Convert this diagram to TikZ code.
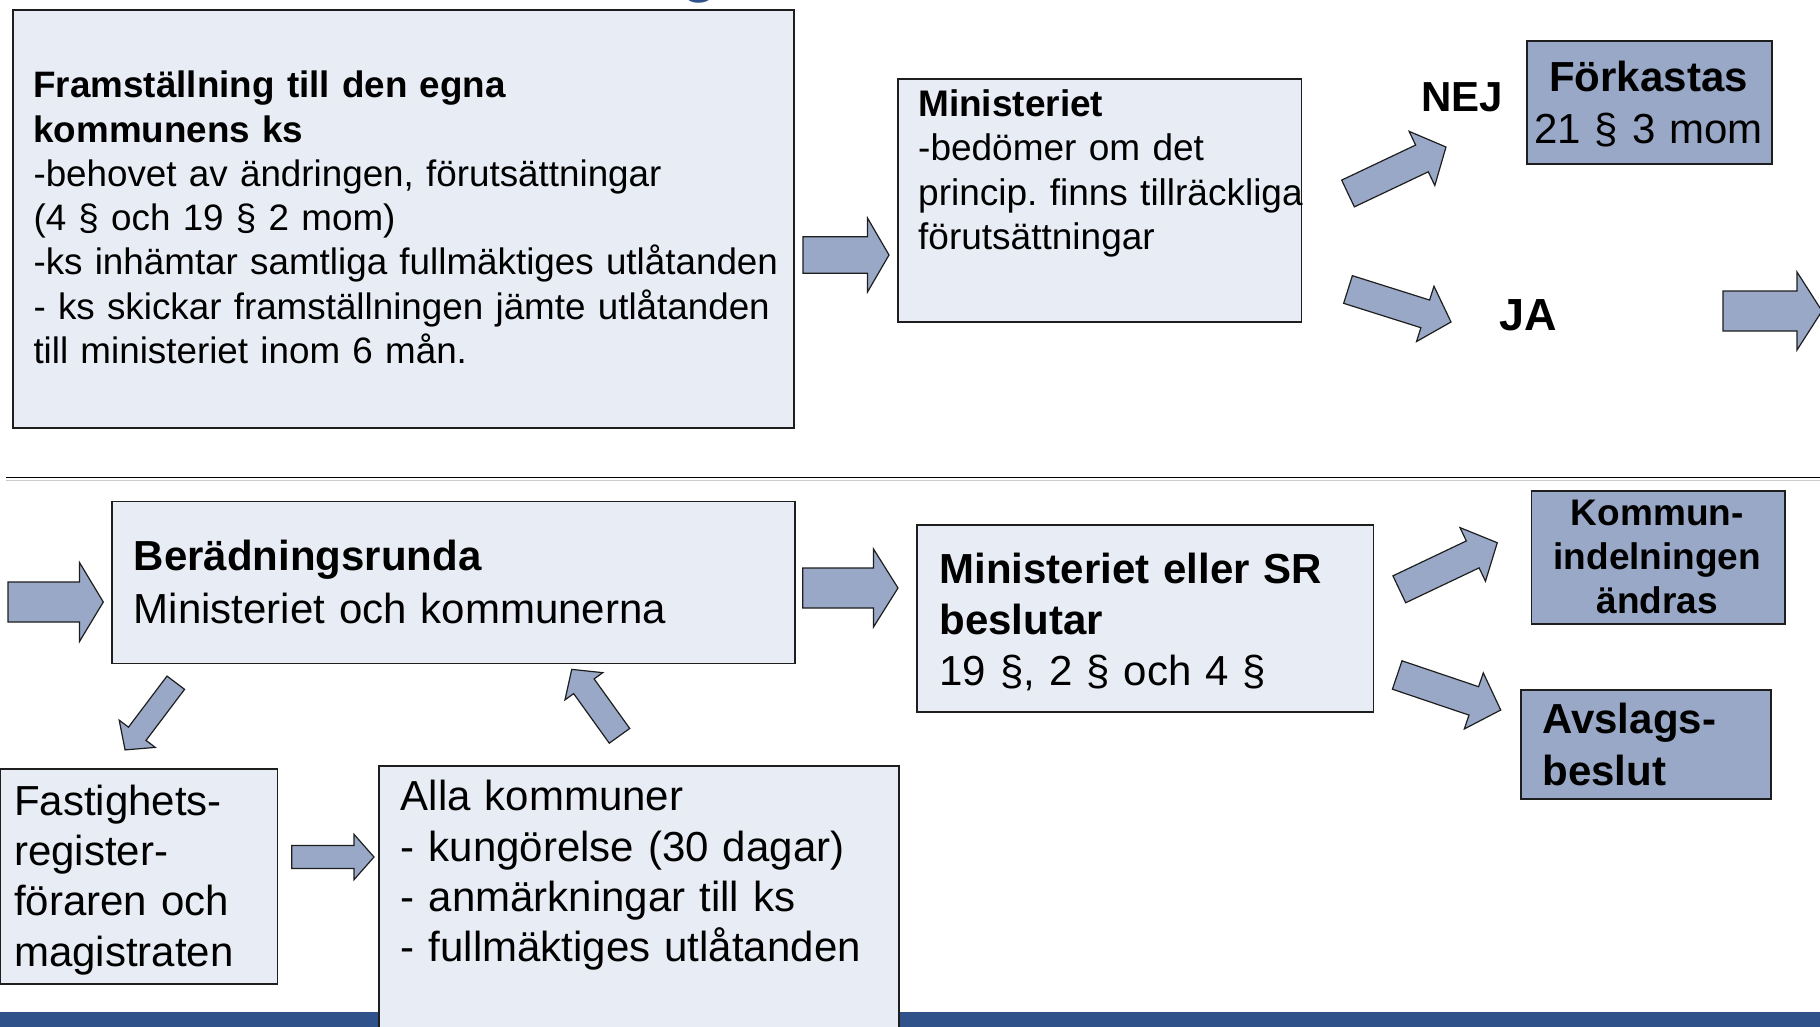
\documentclass[tikz,border=0pt]{standalone}
\usepackage{fontspec}
\setmainfont{Liberation Sans}
\frenchspacing
\definecolor{lightbox}{HTML}{E8ECF4}
\definecolor{darkbox}{HTML}{98A8C6}
\definecolor{barblue}{HTML}{30528A}
\definecolor{edge}{HTML}{1E1E1E}
% block arrow: tail x, tail y, tip x, tip y, body half width, head half width, head length
\newcommand\barrow[7]{%
  \pgfmathsetmacro\baang{atan2(-((#4)-(#2)),(#3)-(#1))}%
  \pgfmathsetmacro\balen{veclen((#3)-(#1),(#4)-(#2))}%
  \pgfmathsetmacro\babase{\balen-(#7)}%
  \begin{scope}[shift={(#1,#2)},rotate=\baang]
    \draw[blockarrow] (0,-#5) -- (\babase,-#5) -- (\babase,-#6) -- (\balen,0)
      -- (\babase,#6) -- (\babase,#5) -- (0,#5) -- cycle;
  \end{scope}}
\begin{document}
\begin{tikzpicture}[x=1pt,y=-1pt,
  lbox/.style={draw=edge, line width=1.6pt, fill=lightbox, inner sep=0pt, anchor=north west},
  dbox/.style={lbox, fill=darkbox},
  txt/.style={inner sep=0pt, anchor=base west, align=left, text width=#1},
  ctxt/.style={inner sep=0pt, anchor=base, align=center, text width=#1},
  blockarrow/.style={draw=edge, line width=1.2pt, fill=darkbox, line join=miter},
  sepline/.style={draw=black, line width=1.8pt},
  sepshadow/.style={draw=black!20, line width=1.2pt}]
\useasboundingbox (0,0) rectangle (1820,1026);

% cut-off title fragment
\node[anchor=base, inner sep=0pt, text=barblue, font=\fontsize{60}{60}\selectfont\bfseries] (gfrag) at (700,-9.3) {g};

% ---------- upper part ----------
\node[lbox, minimum width=781.3, minimum height=418.3] (A) at (12,9) {};
\node[txt=800, font=\fontsize{36.8}{44.3}\selectfont] (At) at (33.3,97.7)
  {\textbf{Framställning till den egna}\\
   \textbf{kommunens ks}\\
   -behovet av ändringen, förutsättningar\\
   (4 § och 19 § 2 mom)\\
   -ks inhämtar samtliga fullmäktiges utlåtanden\\
   - ks skickar framställningen jämte utlåtanden\\
   till ministeriet inom 6 mån.};

\node[lbox, minimum width=403.5, minimum height=243] (B) at (897,78) {};
\node[txt=500, font=\fontsize{37}{44.6}\selectfont] (Bt) at (918,116)
  {\textbf{Ministeriet}\\
   -bedömer om det\\
   princip. finns tillräckliga\\
   förutsättningar};

\node[anchor=base, inner sep=0pt, font=\fontsize{42}{50}\selectfont\bfseries] (nej) at (1462,111.7) {NEJ};
\node[dbox, minimum width=245, minimum height=123] (F) at (1526,40) {};
\node[ctxt=245, font=\fontsize{42}{51.6}\selectfont] (Ft) at (1648.5,91.7)
  {\textbf{Förkastas}\\21 § 3 mom};

\node[anchor=base, inner sep=0pt, font=\fontsize{45}{50}\selectfont\bfseries] (ja) at (1528,330) {JA};

\barrow{803}{255}{889}{255}{18.3}{37}{21.5}
\barrow{1348}{193.5}{1446}{147}{14.8}{30}{26.6}
\barrow{1348}{289.5}{1451}{322}{14.5}{29}{27}
\barrow{1723}{311}{1822}{311}{20}{39}{25}

% separator
\coordinate (sepL) at (6,477.5);
\coordinate (sepR) at (1820,477.5);
\coordinate (shL) at (6,480.3);
\coordinate (shR) at (1820,480.3);
\draw[sepshadow] (shL) -- (shR);
\draw[sepline] (sepL) -- (sepR);

% ---------- lower part ----------
\fill[barblue] (-2,1012) rectangle (1822,1028);

\node[lbox, minimum width=682.6, minimum height=162] (C) at (111.4,500.7) {};
\node[txt=700, font=\fontsize{42}{52.3}\selectfont] (Ct) at (133.5,570.7)
  {\textbf{Berädningsrunda}\\
   Ministeriet och kommunerna};

\node[lbox, minimum width=456.7, minimum height=186.7] (D) at (916,524.3) {};
\node[txt=460, font=\fontsize{42}{50.9}\selectfont] (Dt) at (939.3,583.3)
  {\textbf{Ministeriet eller SR}\\
   \textbf{beslutar}\\
   19 §, 2 § och 4 §};

\node[dbox, minimum width=253.3, minimum height=133.3] (K) at (1530.7,490) {};
\node[ctxt=253.3, font=\fontsize{37}{44.2}\selectfont\bfseries] (Kt) at (1657.3,525)
  {Kommun-\\indelningen\\ändras};

\node[dbox, minimum width=250, minimum height=109.3] (Av) at (1520,689) {};
\node[txt=240, font=\fontsize{42}{51.7}\selectfont\bfseries] (Avt) at (1542.3,733.3)
  {Avslags-\\beslut};

\node[lbox, minimum width=277.7, minimum height=215] (Fa) at (-1,768.3) {};
\node[txt=270, font=\fontsize{42}{50.4}\selectfont] (Fat) at (14,815)
  {Fastighets-\\register-\\föraren och\\magistraten};

\node[lbox, minimum width=520.1, minimum height=275] (Al) at (378.3,765) {};
\node[txt=520, font=\fontsize{42}{50.3}\selectfont] (Alt) at (400.7,810.7)
  {Alla kommuner\\
   - kungörelse (30 dagar)\\
   - anmärkningar till ks\\
   - fullmäktiges utlåtanden};

\barrow{8}{602}{103.3}{602}{20}{39.5}{23.8}
\barrow{802.7}{588}{898}{588}{20}{39}{24.5}
\barrow{175.8}{682.7}{125}{750}{11}{22.6}{20.2}
\barrow{619.5}{735.8}{571.7}{669.3}{12.6}{23.3}{20.8}
\barrow{291.7}{857}{374}{857}{11.5}{22.7}{20}
\barrow{1399.3}{589.3}{1497.3}{542.7}{14.9}{29.7}{27.2}
\barrow{1397.2}{675}{1500.7}{710}{15}{29.6}{28.4}
\end{tikzpicture}
\end{document}
